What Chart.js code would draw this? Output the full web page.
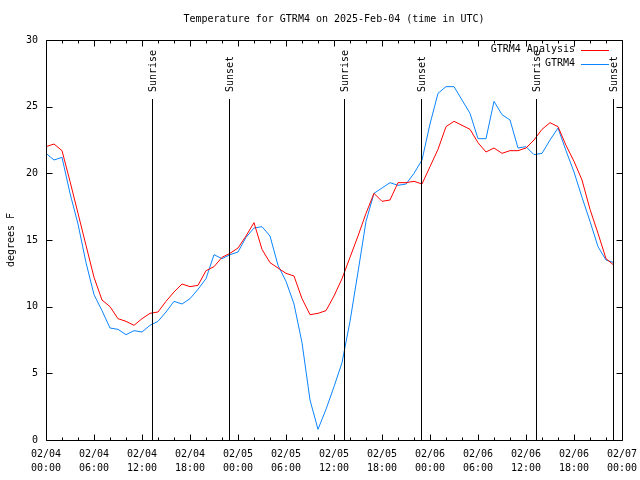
<!DOCTYPE html>
<html>
<head>
<meta charset="utf-8">
<title>Temperature for GTRM4</title>
<script src="https://cdn.jsdelivr.net/npm/chart.js@4.4.1/dist/chart.umd.min.js"></script>
<style>
  html, body { margin: 0; padding: 0; background: #fff; }
  canvas { display: block; }
</style>
</head>
<body>
<canvas id="tempChart" width="640" height="480"></canvas>
<script>
// hourly values from 2025-02-04 00:00 UTC
var analysisTemps = [
    22.0, 22.2, 21.7, 19.4, 17.0, 14.6, 12.2, 10.5, 10.0, 9.1, 8.9, 8.6,
    9.1, 9.5, 9.6, 10.4, 11.1, 11.7, 11.5, 11.6, 12.7, 13.0, 13.7, 14.0,
    14.4, 15.3, 16.3, 14.3, 13.3, 12.9, 12.5, 12.3, 10.6, 9.4, 9.5, 9.7,
    10.8, 12.1, 13.7, 15.3, 17.0, 18.5, 17.9, 18.0, 19.3, 19.3, 19.4, 19.2,
    20.5, 21.8, 23.5, 23.9, 23.6, 23.3, 22.3, 21.6, 21.9, 21.5, 21.7, 21.7,
    21.9, 22.5, 23.3, 23.8, 23.5, 22.1, 20.9, 19.5, 17.3, 15.5, 13.6, 13.1
];
var stationTemps = [
    21.5, 21.0, 21.2, 18.5, 16.2, 13.3, 10.9, 9.7, 8.4, 8.3, 7.9, 8.2,
    8.1, 8.6, 8.9, 9.6, 10.4, 10.2, 10.6, 11.3, 12.1, 13.9, 13.6, 13.9,
    14.1, 15.2, 15.9, 16.0, 15.3, 13.1, 11.9, 10.2, 7.3, 3.0, 0.8, 2.3,
    4.0, 5.8, 8.9, 12.6, 16.4, 18.5, 18.9, 19.3, 19.1, 19.2, 20.0, 21.0,
    23.7, 26.0, 26.5, 26.5, 25.5, 24.5, 22.6, 22.6, 25.4, 24.4, 24.0, 21.9,
    22.0, 21.4, 21.5, 22.5, 23.4, 21.7, 20.1, 18.2, 16.4, 14.5, 13.5, 13.3
];
var xTickLabels = [
    ['02/04', '00:00'], ['02/04', '06:00'], ['02/04', '12:00'], ['02/04', '18:00'],
    ['02/05', '00:00'], ['02/05', '06:00'], ['02/05', '12:00'], ['02/05', '18:00'],
    ['02/06', '00:00'], ['02/06', '06:00'], ['02/06', '12:00'], ['02/06', '18:00'],
    ['02/07', '00:00']
];
var yTicks = [0, 5, 10, 15, 20, 25, 30];
// hours after start for the sun events
var sunHours = [13.25, 22.9, 37.25, 46.9, 61.2, 70.9];
var sunLabels = ['Sunrise', 'Sunset', 'Sunrise', 'Sunset', 'Sunrise', 'Sunset'];

var seriesNames = ['GTRM4 Analysis', 'GTRM4'];
var seriesColors = ['#ff0000', '#0a84ff'];

var monoFont = '10px "DejaVu Sans Mono", "Liberation Mono", monospace';

// border, inward tics, sun lines, legend and titles like the gnuplot original
var gnuplotFrame = {
    id: 'gnuplotFrame',
    afterDatasetsDraw: function (chart) {
        var ctx = chart.ctx;
        var a = chart.chartArea;
        var x = chart.scales.x;
        var y = chart.scales.y;
        ctx.save();
        ctx.strokeStyle = '#000';
        ctx.fillStyle = '#000';
        ctx.lineWidth = 1;
        ctx.font = monoFont;

        // sunrise / sunset markers
        for (var i = 0; i < sunHours.length; i++) {
            var sx = Math.round(x.getPixelForValue(sunHours[i])) + 0.5;
            ctx.beginPath();
            ctx.moveTo(sx, a.top + 59);
            ctx.lineTo(sx, a.bottom);
            ctx.stroke();
            ctx.save();
            ctx.translate(sx + 1, a.top + 52);
            ctx.rotate(-Math.PI / 2);
            ctx.textAlign = 'left';
            ctx.textBaseline = 'middle';
            ctx.fillText(sunLabels[i], 0, 0);
            ctx.restore();
        }

        // border
        var L = Math.round(a.left) + 0.5, R = Math.round(a.right) + 0.5;
        var T = Math.round(a.top) + 0.5, B = Math.round(a.bottom) + 0.5;
        ctx.beginPath();
        ctx.rect(L, T, R - L, B - T);
        ctx.stroke();

        // x tics every 2 hours, long every 6
        ctx.beginPath();
        for (var h = 0; h <= 72; h += 2) {
            var px = Math.round(x.getPixelForValue(h)) + 0.5;
            var len = (h % 6 === 0) ? 6 : 3;
            ctx.moveTo(px, B); ctx.lineTo(px, B - len);
            ctx.moveTo(px, T); ctx.lineTo(px, T + len);
        }
        // y tics
        yTicks.forEach(function (v) {
            var py = Math.round(y.getPixelForValue(v)) + 0.5;
            ctx.moveTo(L, py); ctx.lineTo(L + 6, py);
            ctx.moveTo(R, py); ctx.lineTo(R - 6, py);
        });
        ctx.stroke();

        // legend (key) top right
        for (var k = 0; k < seriesNames.length; k++) {
            var ky = a.top + 9.5 + k * 14;
            ctx.fillStyle = '#000';
            ctx.textAlign = 'right';
            ctx.textBaseline = 'middle';
            ctx.fillText(seriesNames[k], a.right - 47, ky);
            ctx.strokeStyle = seriesColors[k];
            ctx.beginPath();
            ctx.moveTo(a.right - 41, Math.round(ky) + 0.5);
            ctx.lineTo(a.right - 13, Math.round(ky) + 0.5);
            ctx.stroke();
        }

        // title
        ctx.fillStyle = '#000';
        ctx.textAlign = 'center';
        ctx.textBaseline = 'middle';
        ctx.fillText('Temperature for GTRM4 on 2025-Feb-04 (time in UTC)', (a.left + a.right) / 2, 19);

        // y axis label
        ctx.save();
        ctx.translate(11, (a.top + a.bottom) / 2);
        ctx.rotate(-Math.PI / 2);
        ctx.fillText('degrees F', 0, 0);
        ctx.restore();

        ctx.restore();
    }
};

var ctx = document.getElementById('tempChart').getContext('2d');

var tempChart = new Chart(ctx, {
    type: 'line',
    data: {
        datasets: [
            {
                label: seriesNames[0],
                data: analysisTemps.map(function (v, i) { return { x: i, y: v }; }),
                borderColor: seriesColors[0],
                borderWidth: 1,
                pointRadius: 0,
                tension: 0,
                fill: false
            },
            {
                label: seriesNames[1],
                data: stationTemps.map(function (v, i) { return { x: i, y: v }; }),
                borderColor: seriesColors[1],
                borderWidth: 1,
                pointRadius: 0,
                tension: 0,
                fill: false
            }
        ]
    },
    options: {
        responsive: false,
        animation: false,
        devicePixelRatio: 1,
        layout: { padding: { top: 40, right: 18, left: 0, bottom: 0 } },
        plugins: {
            legend: { display: false },
            title: { display: false },
            tooltip: { enabled: false }
        },
        scales: {
            x: {
                type: 'linear',
                min: 0,
                max: 72,
                grid: { display: false, drawTicks: false },
                border: { display: false },
                afterBuildTicks: function (scale) {
                    scale.ticks = xTickLabels.map(function (lbl, i) { return { value: i * 6 }; });
                },
                afterFit: function (scale) {
                    scale.height = 40;
                    scale.paddingLeft = 0;
                    scale.paddingRight = 0;
                },
                ticks: {
                    autoSkip: false,
                    maxRotation: 0,
                    padding: 7,
                    color: '#000',
                    font: { family: '"DejaVu Sans Mono", "Liberation Mono", monospace', size: 10, lineHeight: 1.4 },
                    callback: function (value) { return xTickLabels[Math.round(value / 6)]; }
                }
            },
            y: {
                min: 0,
                max: 30,
                grid: { display: false, drawTicks: false },
                border: { display: false },
                afterBuildTicks: function (scale) {
                    scale.ticks = yTicks.map(function (v) { return { value: v }; });
                },
                afterFit: function (scale) {
                    scale.width = 46;
                    scale.paddingTop = 0;
                    scale.paddingBottom = 0;
                },
                ticks: {
                    padding: 8,
                    color: '#000',
                    font: { family: '"DejaVu Sans Mono", "Liberation Mono", monospace', size: 10 }
                }
            }
        }
    },
    plugins: [gnuplotFrame]
});
</script>
</body>
</html>
